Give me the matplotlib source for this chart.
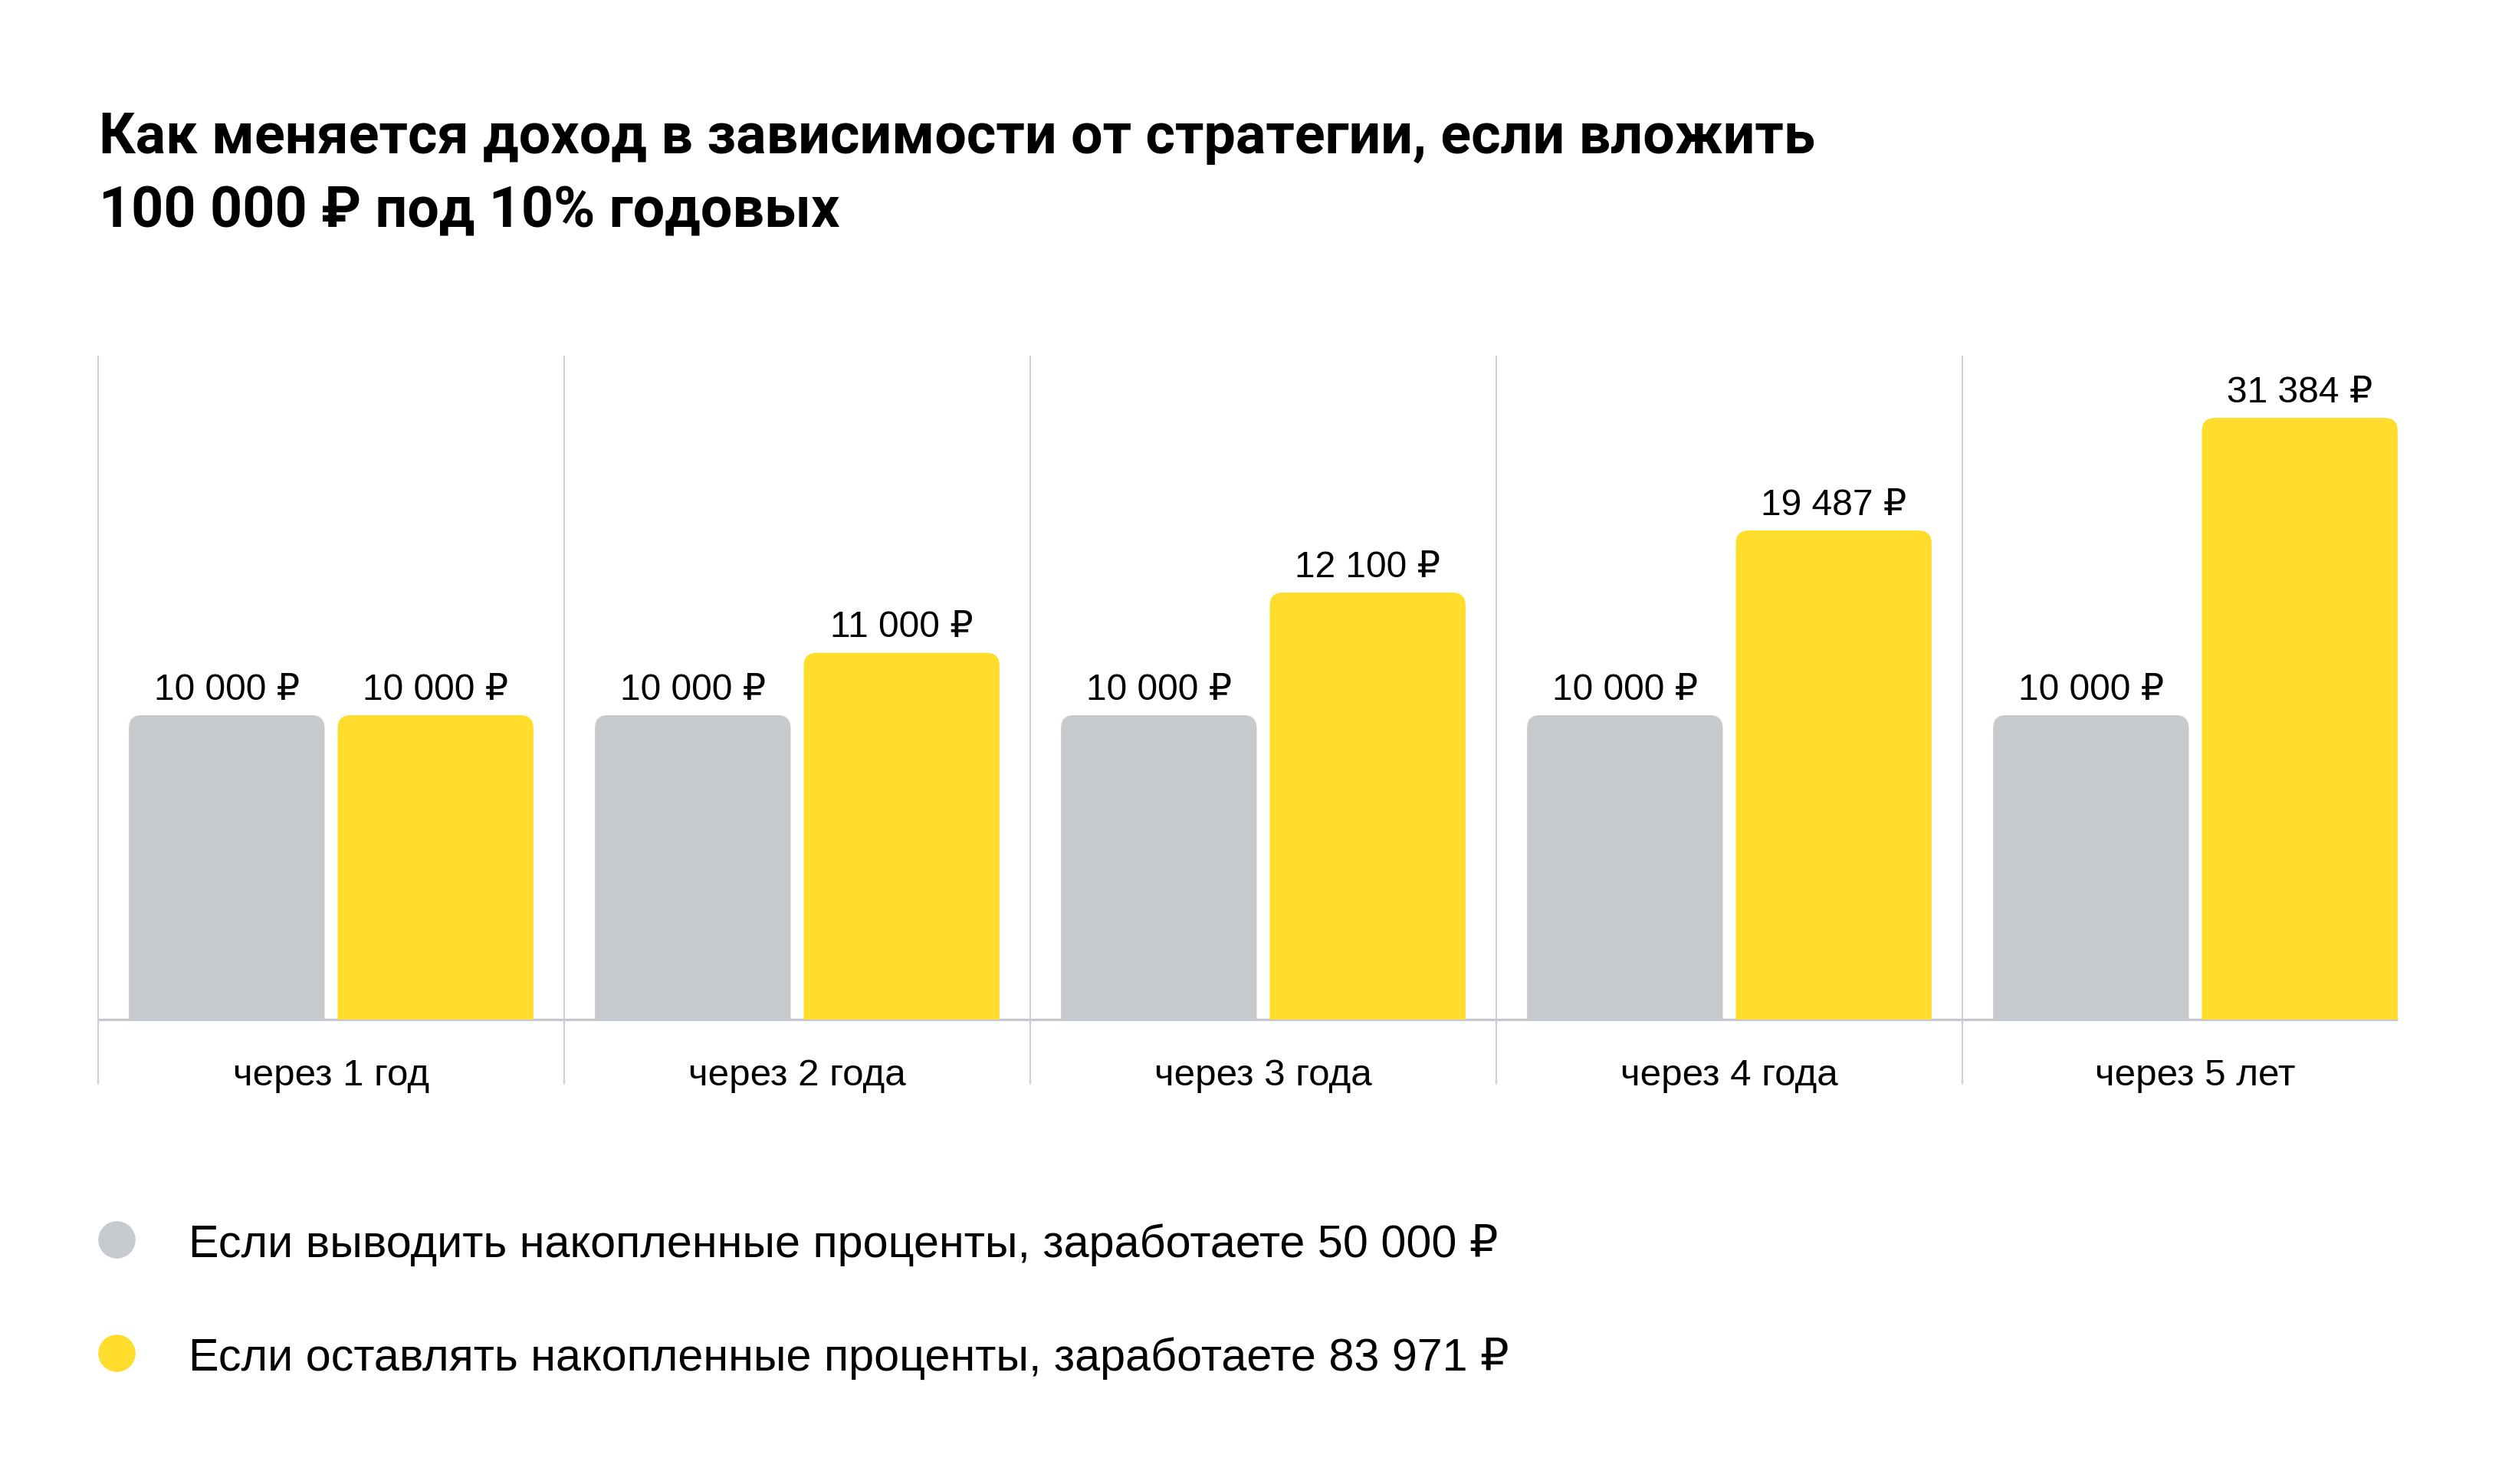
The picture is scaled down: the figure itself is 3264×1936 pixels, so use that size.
import matplotlib
matplotlib.use("Agg")
import matplotlib.pyplot as plt
from matplotlib.patches import FancyBboxPatch
from matplotlib.lines import Line2D

# --- data -------------------------------------------------------------
title_lines = ["Как меняется доход в зависимости от стратегии, если вложить",
               "100 000 ₽ под 10% годовых"]
categories = ["через 1 год", "через 2 года", "через 3 года", "через 4 года", "через 5 лет"]
withdraw_values = [10000, 10000, 10000, 10000, 10000]
reinvest_values = [10000, 11000, 12100, 19487, 31384]
# bar heights as drawn in the original (not proportional to the labels)
withdraw_heights = [10000, 10000, 10000, 10000, 10000]
reinvest_heights = [10000, 12050, 14030, 16070, 19770]
legend_labels = ["Если выводить накопленные проценты, заработаете 50 000 ₽",
                 "Если оставлять накопленные проценты, заработаете 83 971 ₽"]

GRAY = "#C7CACF"
YELLOW = "#FFDD2D"
LINE = "#CDD0D4"
BODY = ["Liberation Sans", "DejaVu Sans"]
BOLD = ["Roboto", "DejaVu Sans"]

W, H = 3264, 1936
fig = plt.figure(figsize=(W / 100, H / 100), dpi=100)

# axes placed in pixel terms of the original layout
left, right_px, top, base = 128, 128 + 3040, 464, 1330
ax = fig.add_axes([left / W, 1 - base / H, (right_px - left) / W, (base - top) / H])
ax.set_xlim(0, 5)
ax.set_ylim(0, 10000 * (base - top) / 397)
ax.axis("off")

x = list(range(len(categories)))
bw, off = 0.42, 0.224

bars_g = ax.bar([i + 0.5 - off for i in x], withdraw_heights, width=bw, color=GRAY)
bars_y = ax.bar([i + 0.5 + off for i in x], reinvest_heights, width=bw, color=YELLOW)

# rounded tops: swap rectangles for fancy boxes, bottom corners hidden below 0
fig.canvas.draw()
p0 = ax.transData.transform((0, 0))
p1 = ax.transData.transform((1, 1000))
xpx = p1[0] - p0[0]
ypx = (p1[1] - p0[1]) / 1000
r = 17 / xpx
aspect = xpx / ypx
pad = 2000
for bars in (bars_g, bars_y):
    for rect in bars:
        fb = FancyBboxPatch((rect.get_x(), -pad), rect.get_width(), rect.get_height() + pad,
                            boxstyle=f"round,pad=0,rounding_size={r}",
                            mutation_aspect=aspect, fc=rect.get_facecolor(),
                            ec="none", zorder=2)
        ax.add_patch(fb)
        rect.remove()

# value labels
for bars, heights, vals in ((bars_g, withdraw_heights, withdraw_values),
                            (bars_y, reinvest_heights, reinvest_values)):
    for rect, h, v in zip(bars, heights, vals):
        ax.annotate(f"{v:,}".replace(",", " ") + " ₽",
                    (rect.get_x() + rect.get_width() / 2, h),
                    xytext=(0, 14.5), textcoords="offset points",
                    ha="center", va="baseline", fontsize=34.5, family=BODY,
                    color="#000000", annotation_clip=False)

# baseline and separators
last = bars_y[-1]
ax.plot([0, last.get_x() + last.get_width()], [0, 0], color="#C4C7CC", lw=2.3,
        solid_capstyle="butt", zorder=1, clip_on=False)
ax.vlines(x, -(1415 - base) / (base - top), 1, transform=ax.get_xaxis_transform(),
          color=LINE, lw=1.6, clip_on=False, zorder=0)

# category labels
for i, c in zip(x, categories):
    ax.text(i + 0.5, -(1416 - base) / (base - top), c, transform=ax.get_xaxis_transform(),
            ha="center", va="baseline", fontsize=35.5, family=BODY)

# title
for line, yb in zip(title_lines, (200, 296)):
    fig.text(129 / W, 1 - yb / H, line, ha="left", va="baseline",
             fontsize=53, fontweight="bold", family=BOLD)

# legend
for lab, col, yc in zip(legend_labels, (GRAY, YELLOW), (1617, 1765)):
    fig.add_artist(Line2D([152 / W], [1 - yc / H], transform=fig.transFigure,
                          marker="o", ms=35, mfc=col, mec="none", ls="none"))
    fig.text(246 / W, 1 - (yc + 23) / H, lab, ha="left", va="baseline",
             fontsize=42.7, family=BODY)

fig.savefig("out.png", dpi=100, facecolor="white")
